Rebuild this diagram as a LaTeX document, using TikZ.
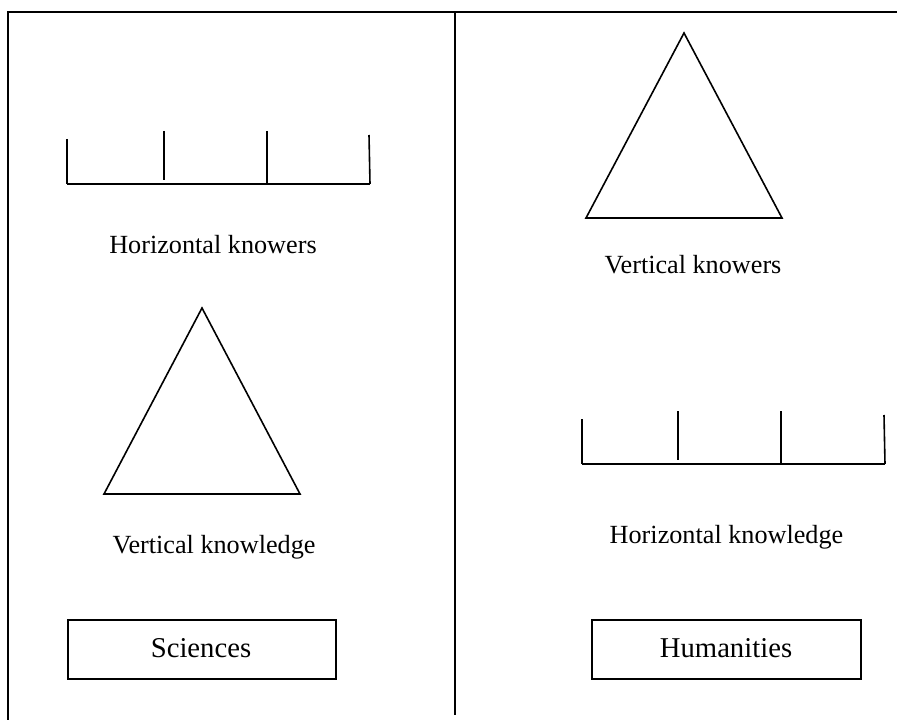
\documentclass[tikz,border=0pt]{standalone}
\usepackage{fontspec}
\setmainfont{Liberation Serif}
\begin{document}
\begin{tikzpicture}[x=1bp,y=-1bp,
  frame/.style={line width=2bp},
  stroke/.style={line width=1.6bp},
  lbl/.style={anchor=base,inner sep=0pt,font=\fontsize{26.3}{30}\selectfont},
  boxlbl/.style={anchor=base,inner sep=0pt,font=\fontsize{28.8}{32}\selectfont}]
\useasboundingbox (0,0) rectangle (897,720);
% frame
\coordinate (tl) at (8,12);
\coordinate (tr) at (897,12);
\coordinate (bl) at (8,720);
\coordinate (dt) at (455,12);
\coordinate (db) at (455,715);
\draw[frame] (bl) -- (tl) -- (tr);
\draw[frame] (dt) -- (db);
% left comb (horizontal knowers)
\coordinate (a0) at (67,184);
\coordinate (a4) at (370,184);
\draw[stroke] (a0) -- (a4);
\draw[stroke] (67,139) -- (a0);
\draw[stroke] (164,131) -- (164,180);
\draw[stroke] (267,131) -- (267,184);
\draw[stroke] (369,135) -- (370,184);
\node[lbl] (hkw) at (213,253) {Horizontal knowers};
% left triangle
\coordinate (lt1) at (202,308);
\coordinate (lt2) at (104,494);
\coordinate (lt3) at (300,494);
\draw[stroke,line join=miter] (lt1) -- (lt2) -- (lt3) -- cycle;
\node[lbl] (vkl) at (214,553) {Vertical knowledge};
% sciences box
\node[draw,line width=1.6bp,minimum width=268bp,minimum height=59bp,inner sep=0pt] (sci) at (202,649.5) {};
\node[boxlbl] (scit) at (201,657) {Sciences};
% right triangle
\coordinate (rt1) at (684,33);
\coordinate (rt2) at (586,218);
\coordinate (rt3) at (782,218);
\draw[stroke,line join=miter] (rt1) -- (rt2) -- (rt3) -- cycle;
\node[lbl] (vkw) at (693,273) {Vertical knowers};
% right comb (horizontal knowledge)
\coordinate (b0) at (582,464);
\coordinate (b4) at (885,464);
\draw[stroke] (b0) -- (b4);
\draw[stroke] (582,419) -- (b0);
\draw[stroke] (678,411) -- (678,460);
\draw[stroke] (781,411) -- (781,464);
\draw[stroke] (884,415) -- (885,464);
\node[lbl] (hkl) at (726.5,543) {Horizontal knowledge};
% humanities box
\node[draw,line width=1.6bp,minimum width=269bp,minimum height=59bp,inner sep=0pt] (hum) at (726.5,649.5) {};
\node[boxlbl] (humt) at (726,657) {Humanities};
\end{tikzpicture}
\end{document}
